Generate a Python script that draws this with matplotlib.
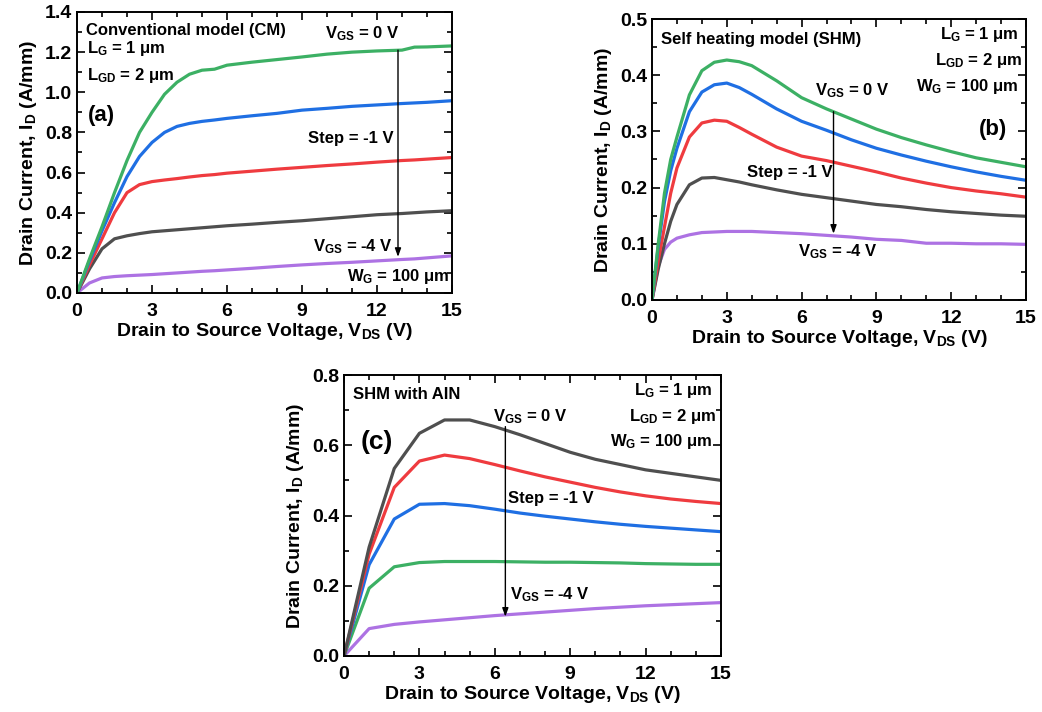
import matplotlib
matplotlib.use("Agg")
import matplotlib.pyplot as plt
from matplotlib.ticker import MultipleLocator

plt.rcParams['font.family'] = ['Liberation Sans', 'DejaVu Sans']
plt.rcParams['font.weight'] = 'bold'
plt.rcParams['mathtext.fontset'] = 'custom'
plt.rcParams['mathtext.rm'] = 'Liberation Sans:bold'
plt.rcParams['mathtext.bf'] = 'Liberation Sans:bold'
plt.rcParams['mathtext.it'] = 'Liberation Sans:bold'
plt.rcParams['mathtext.default'] = 'rm'

GREEN = '#3cb064'
BLUE = '#1f6fe3'
RED = '#ef3b3f'
GRAY = '#4f4f4f'
PURPLE = '#ad72e3'

# ---------------- Panel (a): conventional model ----------------
vds_a = [0, 0.5, 1, 1.5, 2, 2.5, 3, 3.5, 4, 4.5, 5, 5.5, 6, 7, 8, 9, 10, 11, 12, 13, 13.5, 14, 15]
a_vgs0 = [0, 0.17, 0.33, 0.50, 0.66, 0.80, 0.90, 0.99, 1.05, 1.09, 1.11, 1.115, 1.135, 1.15, 1.163, 1.176, 1.19, 1.20, 1.206, 1.21, 1.225, 1.226, 1.231]
a_vgs1 = [0, 0.16, 0.31, 0.45, 0.58, 0.68, 0.75, 0.80, 0.83, 0.845, 0.855, 0.862, 0.87, 0.883, 0.895, 0.911, 0.92, 0.93, 0.937, 0.944, 0.947, 0.95, 0.958]
a_vgs2 = [0, 0.14, 0.27, 0.40, 0.50, 0.54, 0.555, 0.563, 0.57, 0.578, 0.585, 0.59, 0.597, 0.607, 0.617, 0.626, 0.635, 0.643, 0.652, 0.66, 0.663, 0.667, 0.675]
a_vgs3 = [0, 0.12, 0.22, 0.27, 0.285, 0.296, 0.305, 0.31, 0.315, 0.32, 0.325, 0.33, 0.335, 0.343, 0.352, 0.36, 0.37, 0.38, 0.39, 0.396, 0.40, 0.404, 0.41]
a_vgs4 = [0, 0.05, 0.075, 0.082, 0.086, 0.089, 0.092, 0.096, 0.10, 0.104, 0.108, 0.111, 0.115, 0.123, 0.132, 0.14, 0.147, 0.153, 0.16, 0.167, 0.17, 0.175, 0.185]

# ---------------- Panel (b): self heating model ----------------
vds_b = [0, 0.25, 0.5, 0.75, 1, 1.5, 2, 2.5, 3, 3.5, 4, 5, 6, 7, 8, 9, 10, 11, 12, 13, 14, 15]
b_vgs0 = [0, 0.10, 0.19, 0.25, 0.29, 0.365, 0.408, 0.423, 0.427, 0.424, 0.417, 0.39, 0.36, 0.34, 0.322, 0.304, 0.289, 0.276, 0.264, 0.253, 0.245, 0.237]
b_vgs1 = [0, 0.095, 0.175, 0.23, 0.27, 0.335, 0.37, 0.383, 0.386, 0.378, 0.366, 0.34, 0.318, 0.302, 0.285, 0.27, 0.258, 0.247, 0.237, 0.228, 0.22, 0.213]
b_vgs2 = [0, 0.07, 0.13, 0.19, 0.235, 0.29, 0.315, 0.32, 0.318, 0.307, 0.295, 0.272, 0.256, 0.248, 0.238, 0.228, 0.217, 0.208, 0.20, 0.194, 0.189, 0.183]
b_vgs3 = [0, 0.055, 0.10, 0.14, 0.17, 0.205, 0.217, 0.218, 0.214, 0.21, 0.205, 0.196, 0.188, 0.182, 0.176, 0.17, 0.166, 0.161, 0.157, 0.154, 0.151, 0.149]
b_vgs4 = [0, 0.06, 0.09, 0.103, 0.11, 0.116, 0.12, 0.121, 0.122, 0.122, 0.122, 0.12, 0.118, 0.115, 0.112, 0.108, 0.106, 0.101, 0.101, 0.10, 0.10, 0.099]

# ---------------- Panel (c): SHM with AlN ----------------
vds_c = [0, 1, 2, 3, 4, 5, 6, 7, 8, 9, 10, 11, 12, 13, 14, 15]
c_vgs0 = [0, 0.31, 0.534, 0.634, 0.672, 0.672, 0.653, 0.63, 0.605, 0.58, 0.56, 0.545, 0.53, 0.52, 0.51, 0.50]
c_vgs1 = [0, 0.29, 0.48, 0.555, 0.572, 0.562, 0.545, 0.527, 0.51, 0.495, 0.48, 0.467, 0.456, 0.447, 0.44, 0.434]
c_vgs2 = [0, 0.26, 0.39, 0.432, 0.434, 0.428, 0.418, 0.407, 0.398, 0.39, 0.382, 0.375, 0.369, 0.364, 0.359, 0.354]
c_vgs3 = [0, 0.193, 0.254, 0.266, 0.269, 0.269, 0.269, 0.268, 0.267, 0.267, 0.266, 0.265, 0.263, 0.262, 0.261, 0.261]
c_vgs4 = [0, 0.078, 0.09, 0.097, 0.103, 0.109, 0.115, 0.12, 0.125, 0.13, 0.135, 0.139, 0.143, 0.146, 0.149, 0.152]

xticks = [0, 3, 6, 9, 12, 15]

W, H = 1042, 712
fig = plt.figure(figsize=(W / 100, H / 100), dpi=100)


def make_ax(px_left, px_top, px_right, px_bottom):
    return fig.add_axes([px_left / W, 1 - px_bottom / H, (px_right - px_left) / W, (px_bottom - px_top) / H])


def style(ax, ymax, ymajor):
    ax.set_xlim(0, 15)
    ax.set_ylim(0, ymax)
    ax.xaxis.set_major_locator(MultipleLocator(3))
    ax.xaxis.set_minor_locator(MultipleLocator(1))
    ax.yaxis.set_major_locator(MultipleLocator(ymajor))
    ax.yaxis.set_minor_locator(MultipleLocator(ymajor / 2))
    ax.tick_params(which='both', direction='in', top=True, right=True, width=1.2, labelsize=14)
    ax.tick_params(which='major', length=6)
    ax.tick_params(which='minor', length=3.5)
    ax.tick_params(axis='x', pad=7)
    for sp in ax.spines.values():
        sp.set_linewidth(1.4)
    fmt = '{:.1f}'
    ax.set_yticklabels([fmt.format(t) for t in ax.get_yticks()])
    for lab in ax.get_xticklabels() + ax.get_yticklabels():
        lab.set_fontweight('bold')
    ax.set_xlabel('Drain to Source Voltage, V$_{DS}$ (V)', fontsize=14, fontweight='bold', labelpad=1)
    ax.set_ylabel('Drain Current, I$_{D}$ (A/mm)', fontsize=14, fontweight='bold', labelpad=4)


def arrow(ax, x, y0, y1):
    ax.annotate('', xy=(x, y1), xytext=(x, y0),
                arrowprops=dict(arrowstyle='-|>,head_length=0.5,head_width=0.18', color='black', lw=1.0, shrinkA=0, shrinkB=0))


LW = 2.3
TS = 12

# Panel (a)
ax = make_ax(77, 12, 452, 293)
for y, c in [(a_vgs4, PURPLE), (a_vgs3, GRAY), (a_vgs2, RED), (a_vgs1, BLUE), (a_vgs0, GREEN)]:
    ax.plot(vds_a, y, color=c, lw=LW, solid_capstyle='round')
ax.set_yticks([0, 0.2, 0.4, 0.6, 0.8, 1.0, 1.2, 1.4])
style(ax, 1.4, 0.2)
ax.text(0.37, 1.309, 'Conventional model (CM)', fontsize=TS, fontweight='bold', va='center')
ax.text(0.40, 1.218, 'L$_{G}$ = 1 μm', fontsize=TS, fontweight='bold', va='center')
ax.text(0.40, 1.085, 'L$_{GD}$ = 2 μm', fontsize=TS, fontweight='bold', va='center')
ax.text(0.45, 0.886, '(a)', fontsize=16, fontweight='bold', va='center')
ax.text(9.93, 1.292, 'V$_{GS}$ = 0 V', fontsize=TS, fontweight='bold', va='center')
ax.text(9.23, 0.77, 'Step = -1 V', fontsize=TS, fontweight='bold', va='center')
ax.text(9.44, 0.232, 'V$_{GS}$ = -4 V', fontsize=TS, fontweight='bold', va='center')
ax.text(10.8, 0.083, 'W$_{G}$ = 100 μm', fontsize=TS, fontweight='bold', va='center')
arrow(ax, 12.84, 1.21, 0.18)

# Panel (b)
ax = make_ax(652, 19, 1026, 300)
for y, c in [(b_vgs4, PURPLE), (b_vgs3, GRAY), (b_vgs2, RED), (b_vgs1, BLUE), (b_vgs0, GREEN)]:
    ax.plot(vds_b, y, color=c, lw=LW, solid_capstyle='round')
style(ax, 0.5, 0.1)
ax.text(0.36, 0.464, 'Self heating model (SHM)', fontsize=TS, fontweight='bold', va='center')
ax.text(14.69, 0.473, 'L$_{G}$ = 1 μm', fontsize=TS, fontweight='bold', va='center', ha='right')
ax.text(14.83, 0.426, 'L$_{GD}$ = 2 μm', fontsize=TS, fontweight='bold', va='center', ha='right')
ax.text(14.69, 0.38, 'W$_{G}$ = 100 μm', fontsize=TS, fontweight='bold', va='center', ha='right')
ax.text(13.69, 0.303, '(b)', fontsize=16, fontweight='bold', va='center', ha='center')
ax.text(6.54, 0.373, 'V$_{GS}$ = 0 V', fontsize=TS, fontweight='bold', va='center')
ax.text(3.83, 0.226, 'Step = -1 V', fontsize=TS, fontweight='bold', va='center')
ax.text(5.85, 0.086, 'V$_{GS}$ = -4 V', fontsize=TS, fontweight='bold', va='center')
arrow(ax, 7.28, 0.335, 0.118)

# Panel (c)
ax = make_ax(344, 375, 721, 656)
for y, c in [(c_vgs4, PURPLE), (c_vgs3, GREEN), (c_vgs2, BLUE), (c_vgs1, RED), (c_vgs0, GRAY)]:
    ax.plot(vds_c, y, color=c, lw=LW, solid_capstyle='round')
style(ax, 0.8, 0.2)
ax.text(0.37, 0.745, 'SHM with AIN', fontsize=TS, fontweight='bold', va='center')
ax.text(14.66, 0.755, 'L$_{G}$ = 1 μm', fontsize=TS, fontweight='bold', va='center', ha='right')
ax.text(14.8, 0.681, 'L$_{GD}$ = 2 μm', fontsize=TS, fontweight='bold', va='center', ha='right')
ax.text(14.66, 0.61, 'W$_{G}$ = 100 μm', fontsize=TS, fontweight='bold', va='center', ha='right')
ax.text(1.3, 0.61, '(c)', fontsize=19, fontweight='bold', va='center', ha='center')
ax.text(5.94, 0.681, 'V$_{GS}$ = 0 V', fontsize=TS, fontweight='bold', va='center')
ax.text(6.54, 0.449, 'Step = -1 V', fontsize=TS, fontweight='bold', va='center')
ax.text(6.6, 0.174, 'V$_{GS}$ = -4 V', fontsize=TS, fontweight='bold', va='center')
arrow(ax, 6.42, 0.653, 0.112)

fig.savefig('out.png', dpi=100, facecolor='white')
